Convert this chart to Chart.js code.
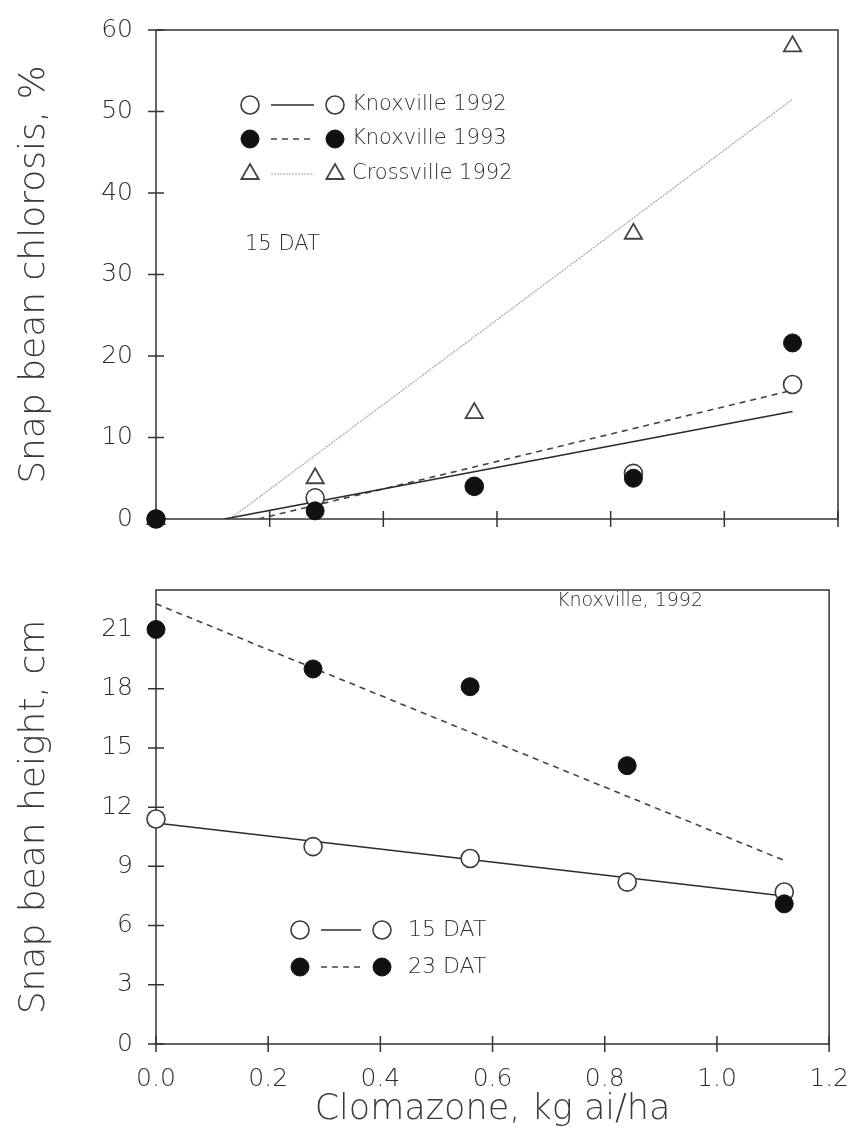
<!DOCTYPE html>
<html>
<head>
<meta charset="utf-8">
<title>Clomazone on snap bean</title>
<script src="https://cdn.jsdelivr.net/npm/chart.js@4.4.0/dist/chart.umd.min.js"></script>
<style>
  body { margin: 0; background: #fff; }
  canvas { position: absolute; left: 0; }
  #chlorosisChart { top: 0; }
  #heightChart { top: 560px; }
</style>
</head>
<body>
<canvas id="chlorosisChart" width="861" height="560"></canvas>
<canvas id="heightChart" width="861" height="574"></canvas>
<script>
// clomazone rates, kg ai/ha
const rates = [0, 0.28, 0.56, 0.84, 1.12];

// chlorosis, % (15 DAT)
const knox92Chlorosis = [0, 2.6, 4.0, 5.6, 16.5];
const knox93Chlorosis = [0, 1.0, 4.0, 5.0, 21.6];
const cross92Chlorosis = [0, 5.0, 13.0, 35.0, 58.0];

// fitted lines, starting where they leave zero
const knox92FitX = [0.12, 1.12];
const knox92FitY = [0, 13.2];
const knox93FitX = [0.18, 1.12];
const knox93FitY = [0, 15.8];
const cross92FitX = [0.13, 1.12];
const cross92FitY = [0, 51.5];

// plant height, cm (Knoxville 1992)
const height15 = [11.4, 10.0, 9.4, 8.2, 7.7];
const height23 = [21.0, 19.0, 18.1, 14.1, 7.1];
const fit15X = [0, 1.12];
const fit15Y = [11.2, 7.5];
const fit23X = [0, 1.12];
const fit23Y = [22.3, 9.3];

const xTicks = [0, 0.2, 0.4, 0.6, 0.8, 1.0, 1.2];
const chlorosisTicks = [0, 10, 20, 30, 40, 50, 60];
const heightTicks = [0, 3, 6, 9, 12, 15, 18, 21];

const ink = '#2e2e2e';
const fontName = '"DejaVu Sans", sans-serif';
const thin = 200;

function pts(xs, ys) {
  return xs.map((x, i) => ({ x: x, y: ys[i] }));
}

function cssFont(size) {
  return thin + ' ' + size + 'px ' + fontName;
}

const openDot = { pointStyle: 'circle', pointRadius: 9, backgroundColor: '#fff', borderColor: '#3a3a3a', borderWidth: 1.6, showLine: false, clip: false };
const fullDot = { pointStyle: 'circle', pointRadius: 9, backgroundColor: '#111', borderColor: '#111', borderWidth: 1, showLine: false, clip: false };
const openTri = { pointStyle: 'triangle', pointRadius: 10, backgroundColor: '#fff', borderColor: '#444', borderWidth: 1.8, showLine: false, clip: false };

function fitLine(data, color, dash, width, order) {
  return { data: data, showLine: true, pointRadius: 0, borderColor: color, borderDash: dash, borderWidth: width, order: order };
}

// box around the plot and ticks that cross the axes
const frame = {
  id: 'frame',
  beforeDatasetsDraw(chart) {
    const { ctx, chartArea: a, scales } = chart;
    ctx.save();
    ctx.strokeStyle = '#333';
    ctx.lineWidth = 1.5;
    ctx.strokeRect(a.left, a.top, a.right - a.left, a.bottom - a.top);
    ctx.beginPath();
    scales.x.ticks.forEach(t => {
      const px = scales.x.getPixelForValue(t.value);
      ctx.moveTo(px, a.bottom - 8);
      ctx.lineTo(px, a.bottom + 8);
    });
    scales.y.ticks.forEach(t => {
      const py = scales.y.getPixelForValue(t.value);
      ctx.moveTo(a.left - 8, py);
      ctx.lineTo(a.left + 8, py);
    });
    ctx.stroke();
    ctx.restore();
  }
};

// marker - line - marker legend rows plus free notes
const key = {
  id: 'key',
  afterDatasetsDraw(chart, args, opts) {
    const ctx = chart.ctx;
    const sets = chart.data.datasets;
    ctx.save();
    (opts.rows || []).forEach(r => {
      const ds = sets[r.points];
      const ln = sets[r.line];
      const mark = { pointStyle: ds.pointStyle, radius: ds.pointRadius, rotation: 0, borderWidth: ds.borderWidth };
      ctx.fillStyle = ds.backgroundColor;
      ctx.strokeStyle = ds.borderColor;
      ctx.lineWidth = ds.borderWidth;
      Chart.helpers.drawPoint(ctx, mark, r.x, r.y);
      Chart.helpers.drawPoint(ctx, mark, r.x + opts.gap, r.y);
      ctx.beginPath();
      ctx.setLineDash(ln.borderDash || []);
      ctx.strokeStyle = ln.borderColor;
      ctx.lineWidth = ln.borderWidth;
      ctx.moveTo(r.x + 21, r.y);
      ctx.lineTo(r.x + opts.gap - 21, r.y);
      ctx.stroke();
      ctx.setLineDash([]);
      ctx.fillStyle = ink;
      ctx.font = opts.font;
      ctx.textBaseline = 'middle';
      ctx.textAlign = 'left';
      ctx.fillText(ds.label, r.x + opts.gap + opts.textGap, r.y);
    });
    (opts.notes || []).forEach(n => {
      ctx.fillStyle = ink;
      ctx.font = n.font;
      ctx.textBaseline = 'middle';
      ctx.textAlign = 'left';
      ctx.fillText(n.text, n.x, n.y);
    });
    ctx.restore();
  }
};

function xScale(showLabels, boxHeight, title) {
  return {
    type: 'linear',
    min: 0,
    max: 1.2,
    afterBuildTicks: s => { s.ticks = xTicks.map(v => ({ value: v })); },
    afterFit: s => { s.height = boxHeight; },
    grid: { display: false },
    border: { display: false },
    ticks: {
      display: showLabels,
      padding: 12,
      color: ink,
      font: { family: fontName, size: 25, weight: thin },
      callback: v => v.toFixed(1)
    },
    title: title
  };
}

function yScale(max, tickValues, titleText) {
  return {
    type: 'linear',
    min: 0,
    max: max,
    afterBuildTicks: s => { s.ticks = tickValues.map(v => ({ value: v })); },
    afterFit: s => { s.width = 156; },
    grid: { display: false },
    border: { display: false },
    ticks: {
      padding: 15,
      color: ink,
      font: { family: fontName, size: 25, weight: thin }
    },
    title: {
      display: true,
      text: titleText,
      color: '#3a3a3a',
      font: { family: fontName, size: 36, weight: thin },
      padding: { top: 13, bottom: 0 }
    }
  };
}

Chart.defaults.animation = false;
Chart.defaults.events = [];

new Chart(document.getElementById('chlorosisChart'), {
  type: 'scatter',
  data: {
    datasets: [
      Object.assign({ label: 'Knoxville 1992', data: pts(rates, knox92Chlorosis), order: 1 }, openDot),
      Object.assign({ label: 'Knoxville 1993', data: pts(rates, knox93Chlorosis), order: 0 }, fullDot),
      Object.assign({ label: 'Crossville 1992', data: pts(rates, cross92Chlorosis), order: 2 }, openTri),
      fitLine(pts(knox92FitX, knox92FitY), '#2b2b2b', [], 1.6, 4),
      fitLine(pts(knox93FitX, knox93FitY), '#444', [6, 5], 1.6, 5),
      fitLine(pts(cross92FitX, cross92FitY), '#a8a8a8', [2, 1], 1.2, 6)
    ]
  },
  options: {
    responsive: false,
    layout: { padding: { top: 22, right: 23, left: 0, bottom: 0 } },
    scales: {
      x: xScale(false, 41, { display: false }),
      y: yScale(60, chlorosisTicks, 'Snap bean chlorosis, %')
    },
    plugins: {
      legend: { display: false },
      tooltip: { enabled: false },
      key: {
        gap: 85,
        textGap: 17,
        font: cssFont(21),
        rows: [
          { points: 0, line: 3, x: 250, y: 105 },
          { points: 1, line: 4, x: 250, y: 139 },
          { points: 2, line: 5, x: 250, y: 174 }
        ],
        notes: [
          { text: '15 DAT', x: 245, y: 245, font: cssFont(21) }
        ]
      }
    }
  },
  plugins: [frame, key]
});

new Chart(document.getElementById('heightChart'), {
  type: 'scatter',
  data: {
    datasets: [
      Object.assign({ label: '15 DAT', data: pts(rates, height15), order: 1 }, openDot),
      Object.assign({ label: '23 DAT', data: pts(rates, height23), order: 0 }, fullDot),
      fitLine(pts(fit15X, fit15Y), '#2b2b2b', [], 1.6, 4),
      fitLine(pts(fit23X, fit23Y), '#444', [6, 5], 1.6, 5)
    ]
  },
  options: {
    responsive: false,
    layout: { padding: { top: 17, right: 23, left: 0, bottom: 0 } },
    scales: {
      x: xScale(true, 90, {
        display: true,
        text: 'Clomazone, kg ai/ha',
        color: '#3a3a3a',
        font: { family: fontName, size: 35, weight: thin },
        padding: { top: 0, bottom: 3 }
      }),
      y: yScale(23, heightTicks, 'Snap bean height, cm')
    },
    plugins: {
      legend: { display: false },
      tooltip: { enabled: false },
      key: {
        gap: 82,
        textGap: 26,
        font: cssFont(22),
        rows: [
          { points: 0, line: 2, x: 300, y: 370 },
          { points: 1, line: 3, x: 300, y: 407 }
        ],
        notes: [
          { text: 'Knoxville, 1992', x: 557, y: 41, font: cssFont(19) }
        ]
      }
    }
  },
  plugins: [frame, key]
});
</script>
</body>
</html>
